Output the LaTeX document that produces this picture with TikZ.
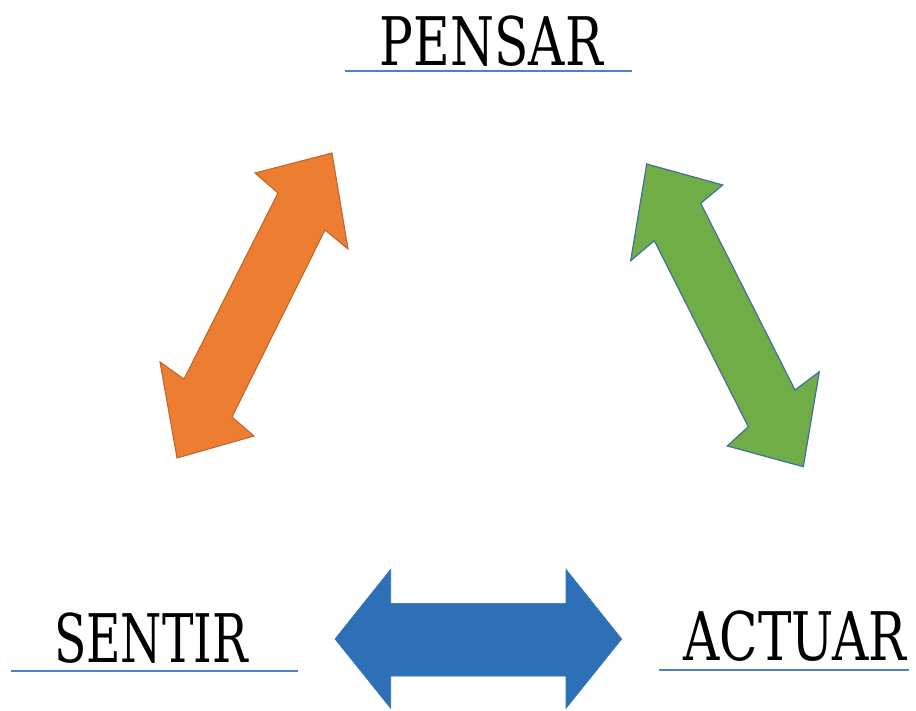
\documentclass[tikz,border=0pt]{standalone}
\usepackage{fontspec}
\newfontfamily\letra{DejaVu Serif}
\usepackage{tikz}
\definecolor{naranja}{HTML}{ED7D31}
\definecolor{verde}{HTML}{70AD47}
\definecolor{azul}{HTML}{2E70B8}
\definecolor{linea}{HTML}{4F7FC8}
\definecolor{borde}{HTML}{41719C}
\tikzset{
  palabra/.style={anchor=base,xscale=0.75,inner sep=0pt,font=\letra\fontsize{67}{72}\selectfont},
  raya/.style={draw=linea,line width=2.8pt}
}

\begin{document}
\begin{tikzpicture}[x=1pt,y=-1pt]
        \useasboundingbox (0,0) rectangle (916,710);
        \draw (491.5,65) node[palabra] (P) {PENSAR};
        \draw (151,662) node[palabra,xscale=0.94] (S) {SENTIR};
        \draw (795,660) node[palabra] (A) {ACTUAR};
        \draw[raya] (345,71) -- (632,71);
        \draw[raya] (11,671) -- (298,671);
        \draw[raya] (659,670) -- (909,670);
        % flechas
        \draw[fill=naranja,draw=naranja!80!black,line width=1pt] (332,153) -- (348,249) -- (325,230) -- (232,417) -- (254,436) -- (177,458) -- (160,362) -- (184,379) -- (278,193) -- (255,173) -- cycle;
        \draw[fill=verde,draw=borde,line width=1.2pt] (646.7,164) -- (722.7,185) -- (700.7,203.3) -- (795,390) -- (819.3,371.7) -- (803.3,466.7) -- (727.3,446) -- (748.3,426.7) -- (654.3,240.7) -- (630.7,260.7) -- cycle;
        \draw[fill=azul,draw=azul,line width=0.6pt] (335,639) -- (390.7,569.3) -- (390.7,603.3) -- (566,603.3) -- (566,569.3) -- (621.7,639) -- (566,708.3) -- (566,676) -- (390.7,676) -- (390.7,708.3) -- cycle;
    \end{tikzpicture}
\end{document}
